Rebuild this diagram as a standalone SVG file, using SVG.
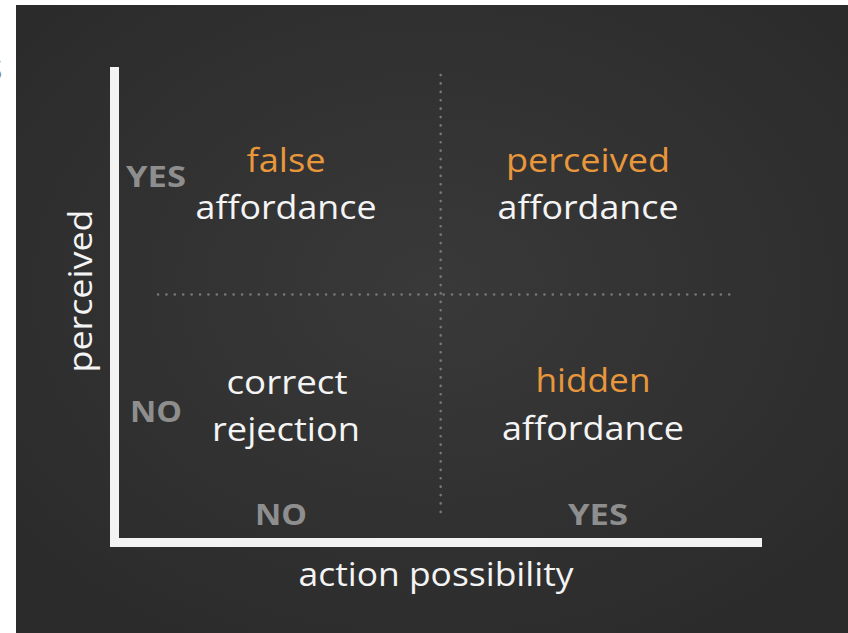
<svg xmlns="http://www.w3.org/2000/svg" width="848" height="633" viewBox="0 0 848 633">
<defs>
<radialGradient id="bg" cx="0.5" cy="0.45" r="0.65">
<stop offset="0" stop-color="#393939"/>
<stop offset="1" stop-color="#2b2b2b"/>
</radialGradient>
<style>
.t{font-family:"Open Sans","Noto Sans","DejaVu Sans",sans-serif;font-size:32px;text-anchor:middle}
.w{fill:#f4f4f4}
.o{fill:#e8973b}
.g{fill:#8e8e8e;font-weight:bold;font-size:29px}
.dot{stroke:#777;stroke-width:2.6;stroke-linecap:round;stroke-dasharray:0.1 8.3;fill:none}
.axis{fill:#f3f3f3}
</style>
</defs>
<rect width="848" height="633" fill="#ffffff"/>
<rect x="16" y="5" width="832" height="628" fill="url(#bg)"/>
<text x="-13" y="80" style="font-family:'Open Sans',sans-serif;font-size:28px;fill:#8a8a8a">S</text>
<g id="connectors">
<line class="dot" x1="440.7" y1="75" x2="440.7" y2="515"/>
<line class="dot" x1="158" y1="294.5" x2="737" y2="294.5"/>
<rect class="axis" x="110" y="67" width="9" height="480"/>
<rect class="axis" x="110" y="538" width="652" height="9"/>
</g>
<g id="false-affordance">
<text class="t o" x="286" y="172" textLength="79" lengthAdjust="spacingAndGlyphs">false</text>
<text class="t w" x="286" y="219" textLength="181" lengthAdjust="spacingAndGlyphs">affordance</text>
</g>
<g id="perceived-affordance">
<text class="t o" x="588" y="172" textLength="164" lengthAdjust="spacingAndGlyphs">perceived</text>
<text class="t w" x="588" y="219" textLength="181" lengthAdjust="spacingAndGlyphs">affordance</text>
</g>
<g id="correct-rejection">
<text class="t w" x="287" y="394" textLength="121" lengthAdjust="spacingAndGlyphs">correct</text>
<text class="t w" x="286" y="441" textLength="148" lengthAdjust="spacingAndGlyphs">rejection</text>
</g>
<g id="hidden-affordance">
<text class="t o" x="593" y="392" textLength="115" lengthAdjust="spacingAndGlyphs">hidden</text>
<text class="t w" x="593" y="440" textLength="182" lengthAdjust="spacingAndGlyphs">affordance</text>
</g>
<g id="labels">
<text class="t g" x="156" y="187" textLength="60" lengthAdjust="spacingAndGlyphs">YES</text>
<text class="t g" x="156" y="422" textLength="52" lengthAdjust="spacingAndGlyphs">NO</text>
<text class="t g" x="281" y="525" textLength="52" lengthAdjust="spacingAndGlyphs">NO</text>
<text class="t g" x="598" y="525" textLength="60" lengthAdjust="spacingAndGlyphs">YES</text>
<text class="t w" x="436" y="586" textLength="275" lengthAdjust="spacingAndGlyphs">action possibility</text>
<text class="t w" transform="translate(92 291) rotate(-90)" x="0" y="0" textLength="163" lengthAdjust="spacingAndGlyphs">perceived</text>
</g>
</svg>
